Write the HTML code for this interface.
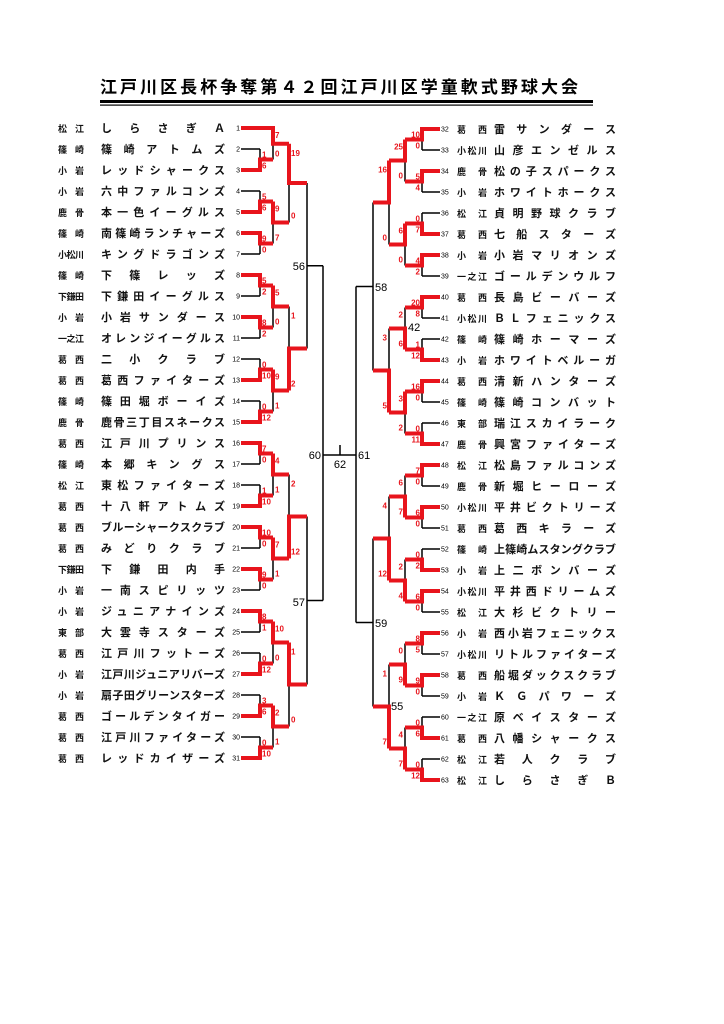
<!DOCTYPE html>
<html><head><meta charset="utf-8"><style>
html,body{margin:0;padding:0;background:#fff;}
svg{display:block;}
text{font-family:"Liberation Sans","Noto Sans CJK JP",sans-serif;}
.s{fill:#e8141c;font-size:8px;font-weight:bold;}
.n{font-size:7px;fill:#000;}
.t{font-size:11px;font-weight:bold;fill:#111;}
.r{font-size:9px;font-weight:bold;fill:#111;}
.m{font-size:11px;fill:#000;}
</style></head><body>
<svg width="724" height="1024" viewBox="0 0 724 1024" xmlns="http://www.w3.org/2000/svg">
<text x="100" y="93" font-size="17" font-weight="bold" textLength="478" lengthAdjust="spacing">江戸川区長杯争奪第４２回江戸川区学童軟式野球大会</text>
<rect x="100" y="100" width="493" height="3" fill="#000"/>
<rect x="100" y="104.5" width="493" height="1.2" fill="#000"/>

<path fill="none" stroke="#000" stroke-width="1.5" d="M241 149H260 M241 191H260 M241 254H260 M241 296H260 M241 338H260 M241 359H260 M241 401H260 M241 464H260 M241 485H260 M241 548H260 M241 590H260 M241 632H260 M241 653H260 M241 695H260 M241 737H260
M260 149V159.5 M273 143.75V159.5 M260 191V201.5 M260 243.5V254 M273 222.5V243.5 M289 183V222.5 M260 285.5V296 M260 327.5V338 M273 306.5V327.5 M260 359V369.5 M260 401V411.5 M273 390.5V411.5 M289 306.5V348.5 M307 183V348.5 M307 265.8H323 M260 453.5V464 M260 485V495.5 M273 474.5V495.5 M260 537.5V548 M260 579.5V590 M273 558.5V579.5 M289 474.5V516.5 M260 621.5V632 M260 653V663.5 M273 642.5V663.5 M260 695V705.5 M260 737V747.5 M273 726.5V747.5 M289 684.5V726.5 M307 516.5V684.5 M307 600.5H323 M323 265.8V600.5 M323 455H356 M340 445V455 M356 286.5V622.5 M373 286.5H356 M373 622.5H356
M440 150H422 M440 192H422 M440 213H422 M440 276H422 M440 318H422 M440 339H422 M440 402H422 M440 423H422 M440 486H422 M440 528H422 M440 549H422 M440 612H422 M440 654H422 M440 696H422 M440 717H422 M440 759H422
M422 139.5V150 M422 181.5V192 M405 160.5V181.5 M422 213V223.5 M422 265.5V276 M405 244.5V265.5 M389 202.5V244.5 M422 307.5V318 M422 339V349.5 M405 307.5V328.5 M422 391.5V402 M422 423V433.5 M405 412.5V433.5 M389 328.5V370.5 M373 202.5V370.5 M422 475.5V486 M422 517.5V528 M405 475.5V496.5 M422 549V559.5 M422 601.5V612 M405 559.5V580.5 M389 496.5V538.5 M422 643.5V654 M422 685.5V696 M405 643.5V664.5 M422 717V727.5 M422 759V769.5 M405 727.5V748.5 M389 664.5V706.5 M373 538.5V706.5"/>

<path fill="none" stroke="#e8141c" stroke-width="4" stroke-linejoin="miter" d="M241 128H273V143.75H289 M241 170H260V159.5H273 M241 212H260V201.5H273 M241 233H260V243.5H273 M273 201.5V222.5H289 M289 143.75V183H307
M241 275H260V285.5H273 M241 317H260V327.5H273 M273 285.5V306.5H289 M241 380H260V369.5H273 M241 422H260V411.5H273 M273 369.5V390.5H289 M289 390.5V348.5H307
M241 443H260V453.5H273 M241 506H260V495.5H273 M273 453.5V474.5H289 M241 527H260V537.5H273 M241 569H260V579.5H273 M273 537.5V558.5H289 M289 558.5V516.5H307
M241 611H260V621.5H273 M241 674H260V663.5H273 M273 621.5V642.5H289 M241 716H260V705.5H273 M241 758H260V747.5H273 M273 705.5V726.5H289 M289 642.5V684.5H307
M440 129H422V139.5H405 M440 171H422V181.5H405 M405 139.5V160.5H389 M440 234H422V223.5H405 M440 255H422V265.5H405 M405 223.5V244.5H389 M389 160.5V202.5H373
M440 297H422V307.5H405 M440 360H422V349.5H405 M405 349.5V328.5H389 M440 381H422V391.5H405 M440 444H422V433.5H405 M405 391.5V412.5H389 M389 412.5V370.5H373
M440 465H422V475.5H405 M440 507H422V517.5H405 M405 517.5V496.5H389 M440 570H422V559.5H405 M440 591H422V601.5H405 M405 601.5V580.5H389 M389 580.5V538.5H373
M440 633H422V643.5H405 M440 675H422V685.5H405 M405 685.5V664.5H389 M440 738H422V727.5H405 M440 780H422V769.5H405 M405 769.5V748.5H389 M389 748.5V706.5H373"/>

<g class="s">
<text x="262" y="157.5">1</text><text x="262" y="168.5">6</text>
<text x="275" y="138">7</text><text x="275" y="156.5">0</text>
<text x="262" y="199.5">5</text><text x="262" y="210.5">6</text>
<text x="262" y="241.5">9</text><text x="262" y="252.5">0</text>
<text x="275" y="211.5">9</text><text x="275" y="240.5">7</text>
<text x="291" y="155.75">19</text><text x="291" y="218.5">0</text>
<text x="262" y="283.5">5</text><text x="262" y="294.5">2</text>
<text x="262" y="325.5">8</text><text x="262" y="336.5">2</text>
<text x="275" y="295.5">5</text><text x="275" y="324.5">0</text>
<text x="262" y="367.5">0</text><text x="262" y="378.5">10</text>
<text x="262" y="409.5">0</text><text x="262" y="420.5">12</text>
<text x="275" y="379.5">9</text><text x="275" y="408.5">1</text>
<text x="291" y="318.5">1</text><text x="291" y="386.5">2</text>
<text x="262" y="451.5">7</text><text x="262" y="462.5">0</text>
<text x="262" y="493.5">1</text><text x="262" y="504.5">10</text>
<text x="275" y="463.5">4</text><text x="275" y="492.5">1</text>
<text x="262" y="535.5">10</text><text x="262" y="546.5">0</text>
<text x="262" y="577.5">9</text><text x="262" y="588.5">0</text>
<text x="275" y="547.5">7</text><text x="275" y="576.5">1</text>
<text x="291" y="486.5">2</text><text x="291" y="554.5">12</text>
<text x="262" y="619.5">8</text><text x="262" y="630.5">1</text>
<text x="262" y="661.5">0</text><text x="262" y="672.5">12</text>
<text x="275" y="631.5">10</text><text x="275" y="660.5">0</text>
<text x="262" y="703.5">3</text><text x="262" y="714.5">6</text>
<text x="262" y="745.5">0</text><text x="262" y="756.5">10</text>
<text x="275" y="715.5">2</text><text x="275" y="744.5">1</text>
<text x="291" y="654.5">1</text><text x="291" y="722.5">0</text>
</g>
<g class="s" text-anchor="end">
<text x="420" y="137.5">10</text><text x="420" y="148.5">0</text>
<text x="420" y="179.5">5</text><text x="420" y="190.5">4</text>
<text x="403" y="149.5">25</text><text x="403" y="178.5">0</text>
<text x="420" y="221.5">0</text><text x="420" y="232.5">7</text>
<text x="420" y="263.5">4</text><text x="420" y="274.5">2</text>
<text x="403" y="233.5">6</text><text x="403" y="262.5">0</text>
<text x="387" y="172.5">16</text><text x="387" y="240.5">0</text>
<text x="420" y="305.5">20</text><text x="420" y="316.5">8</text>
<text x="420" y="347.5">1</text><text x="420" y="358.5">12</text>
<text x="403" y="317.5">2</text><text x="403" y="346.5">6</text>
<text x="420" y="389.5">16</text><text x="420" y="400.5">0</text>
<text x="420" y="431.5">0</text><text x="420" y="442.5">11</text>
<text x="403" y="401.5">3</text><text x="403" y="430.5">2</text>
<text x="387" y="340.5">3</text><text x="387" y="408.5">5</text>
<text x="420" y="473.5">7</text><text x="420" y="484.5">0</text>
<text x="420" y="515.5">6</text><text x="420" y="526.5">0</text>
<text x="403" y="485.5">6</text><text x="403" y="514.5">7</text>
<text x="420" y="557.5">0</text><text x="420" y="568.5">2</text>
<text x="420" y="599.5">6</text><text x="420" y="610.5">0</text>
<text x="403" y="569.5">2</text><text x="403" y="598.5">4</text>
<text x="387" y="508.5">4</text><text x="387" y="576.5">12</text>
<text x="420" y="641.5">8</text><text x="420" y="652.5">5</text>
<text x="420" y="683.5">9</text><text x="420" y="694.5">0</text>
<text x="403" y="653.5">0</text><text x="403" y="682.5">9</text>
<text x="420" y="725.5">0</text><text x="420" y="736.5">6</text>
<text x="420" y="767.5">0</text><text x="420" y="778.5">12</text>
<text x="403" y="737.5">4</text><text x="403" y="766.5">7</text>
<text x="387" y="676.5">1</text><text x="387" y="744.5">7</text>
</g>
<g class="m">
<text x="305" y="270" text-anchor="end">56</text>
<text x="305" y="606" text-anchor="end">57</text>
<text x="375" y="291">58</text>
<text x="375" y="627">59</text>
<text x="321" y="459" text-anchor="end">60</text>
<text x="358" y="459">61</text>
<text x="340" y="468" text-anchor="middle">62</text>
<text x="408" y="331">42</text>
<text x="391" y="710">55</text>
</g>

<g class="n" text-anchor="end">
<text x="240" y="130.5">1</text><text x="240" y="151.5">2</text><text x="240" y="172.5">3</text><text x="240" y="193.5">4</text><text x="240" y="214.5">5</text><text x="240" y="235.5">6</text><text x="240" y="256.5">7</text><text x="240" y="277.5">8</text><text x="240" y="298.5">9</text><text x="240" y="319.5">10</text><text x="240" y="340.5">11</text><text x="240" y="361.5">12</text><text x="240" y="382.5">13</text><text x="240" y="403.5">14</text><text x="240" y="424.5">15</text><text x="240" y="445.5">16</text><text x="240" y="466.5">17</text><text x="240" y="487.5">18</text><text x="240" y="508.5">19</text><text x="240" y="529.5">20</text><text x="240" y="550.5">21</text><text x="240" y="571.5">22</text><text x="240" y="592.5">23</text><text x="240" y="613.5">24</text><text x="240" y="634.5">25</text><text x="240" y="655.5">26</text><text x="240" y="676.5">27</text><text x="240" y="697.5">28</text><text x="240" y="718.5">29</text><text x="240" y="739.5">30</text><text x="240" y="760.5">31</text>
</g>
<g class="n">
<text x="441" y="131.5">32</text><text x="441" y="152.5">33</text><text x="441" y="173.5">34</text><text x="441" y="194.5">35</text><text x="441" y="215.5">36</text><text x="441" y="236.5">37</text><text x="441" y="257.5">38</text><text x="441" y="278.5">39</text><text x="441" y="299.5">40</text><text x="441" y="320.5">41</text><text x="441" y="341.5">42</text><text x="441" y="362.5">43</text><text x="441" y="383.5">44</text><text x="441" y="404.5">45</text><text x="441" y="425.5">46</text><text x="441" y="446.5">47</text><text x="441" y="467.5">48</text><text x="441" y="488.5">49</text><text x="441" y="509.5">50</text><text x="441" y="530.5">51</text><text x="441" y="551.5">52</text><text x="441" y="572.5">53</text><text x="441" y="593.5">54</text><text x="441" y="614.5">55</text><text x="441" y="635.5">56</text><text x="441" y="656.5">57</text><text x="441" y="677.5">58</text><text x="441" y="698.5">59</text><text x="441" y="719.5">60</text><text x="441" y="740.5">61</text><text x="441" y="761.5">62</text><text x="441" y="782.5">63</text>
</g>

<g class="r">
<text x="58" y="132" textLength="26">松江</text>
<text x="58" y="153" textLength="26">篠崎</text>
<text x="58" y="174" textLength="26">小岩</text>
<text x="58" y="195" textLength="26">小岩</text>
<text x="58" y="216" textLength="26">鹿骨</text>
<text x="58" y="237" textLength="26">篠崎</text>
<text x="58" y="258" textLength="26">小松川</text>
<text x="58" y="279" textLength="26">篠崎</text>
<text x="58" y="300" textLength="26">下鎌田</text>
<text x="58" y="321" textLength="26">小岩</text>
<text x="58" y="342" textLength="26">一之江</text>
<text x="58" y="363" textLength="26">葛西</text>
<text x="58" y="384" textLength="26">葛西</text>
<text x="58" y="405" textLength="26">篠崎</text>
<text x="58" y="426" textLength="26">鹿骨</text>
<text x="58" y="447" textLength="26">葛西</text>
<text x="58" y="468" textLength="26">篠崎</text>
<text x="58" y="489" textLength="26">松江</text>
<text x="58" y="510" textLength="26">葛西</text>
<text x="58" y="531" textLength="26">葛西</text>
<text x="58" y="552" textLength="26">葛西</text>
<text x="58" y="573" textLength="26">下鎌田</text>
<text x="58" y="594" textLength="26">小岩</text>
<text x="58" y="615" textLength="26">小岩</text>
<text x="58" y="636" textLength="26">東部</text>
<text x="58" y="657" textLength="26">葛西</text>
<text x="58" y="678" textLength="26">小岩</text>
<text x="58" y="699" textLength="26">小岩</text>
<text x="58" y="720" textLength="26">葛西</text>
<text x="58" y="741" textLength="26">葛西</text>
<text x="58" y="762" textLength="26">葛西</text>
</g>
<g class="t">
<text x="101" y="132" textLength="124">しらさぎＡ</text>
<text x="101" y="153" textLength="124">篠崎アトムズ</text>
<text x="101" y="174" textLength="124">レッドシャークス</text>
<text x="101" y="195" textLength="124">六中ファルコンズ</text>
<text x="101" y="216" textLength="124">本一色イーグルス</text>
<text x="101" y="237" textLength="124">南篠崎ランチャーズ</text>
<text x="101" y="258" textLength="124">キングドラゴンズ</text>
<text x="101" y="279" textLength="124">下篠レッズ</text>
<text x="101" y="300" textLength="124">下鎌田イーグルス</text>
<text x="101" y="321" textLength="124">小岩サンダース</text>
<text x="101" y="342" textLength="124">オレンジイーグルス</text>
<text x="101" y="363" textLength="124">二小クラブ</text>
<text x="101" y="384" textLength="124">葛西ファイターズ</text>
<text x="101" y="405" textLength="124">篠田堀ボーイズ</text>
<text x="101" y="426" textLength="124">鹿骨三丁目スネークス</text>
<text x="101" y="447" textLength="124">江戸川プリンス</text>
<text x="101" y="468" textLength="124">本郷キングス</text>
<text x="101" y="489" textLength="124">東松ファイターズ</text>
<text x="101" y="510" textLength="124">十八軒アトムズ</text>
<text x="101" y="531" textLength="124">ブルーシャークスクラブ</text>
<text x="101" y="552" textLength="124">みどりクラブ</text>
<text x="101" y="573" textLength="124">下鎌田内手</text>
<text x="101" y="594" textLength="124">一南スピリッツ</text>
<text x="101" y="615" textLength="124">ジュニアナインズ</text>
<text x="101" y="636" textLength="124">大雲寺スターズ</text>
<text x="101" y="657" textLength="124">江戸川フットーズ</text>
<text x="101" y="678" textLength="124">江戸川ジュニアリバーズ</text>
<text x="101" y="699" textLength="124">扇子田グリーンスターズ</text>
<text x="101" y="720" textLength="124">ゴールデンタイガー</text>
<text x="101" y="741" textLength="124">江戸川ファイターズ</text>
<text x="101" y="762" textLength="124">レッドカイザーズ</text>
</g>
<g class="r">
<text x="457" y="133" textLength="30">葛西</text>
<text x="457" y="154" textLength="30">小松川</text>
<text x="457" y="175" textLength="30">鹿骨</text>
<text x="457" y="196" textLength="30">小岩</text>
<text x="457" y="217" textLength="30">松江</text>
<text x="457" y="238" textLength="30">葛西</text>
<text x="457" y="259" textLength="30">小岩</text>
<text x="457" y="280" textLength="30">一之江</text>
<text x="457" y="301" textLength="30">葛西</text>
<text x="457" y="322" textLength="30">小松川</text>
<text x="457" y="343" textLength="30">篠崎</text>
<text x="457" y="364" textLength="30">小岩</text>
<text x="457" y="385" textLength="30">葛西</text>
<text x="457" y="406" textLength="30">篠崎</text>
<text x="457" y="427" textLength="30">東部</text>
<text x="457" y="448" textLength="30">鹿骨</text>
<text x="457" y="469" textLength="30">松江</text>
<text x="457" y="490" textLength="30">鹿骨</text>
<text x="457" y="511" textLength="30">小松川</text>
<text x="457" y="532" textLength="30">葛西</text>
<text x="457" y="553" textLength="30">篠崎</text>
<text x="457" y="574" textLength="30">小岩</text>
<text x="457" y="595" textLength="30">小松川</text>
<text x="457" y="616" textLength="30">松江</text>
<text x="457" y="637" textLength="30">小岩</text>
<text x="457" y="658" textLength="30">小松川</text>
<text x="457" y="679" textLength="30">葛西</text>
<text x="457" y="700" textLength="30">小岩</text>
<text x="457" y="721" textLength="30">一之江</text>
<text x="457" y="742" textLength="30">葛西</text>
<text x="457" y="763" textLength="30">松江</text>
<text x="457" y="784" textLength="30">松江</text>
</g>
<g class="t">
<text x="494" y="133" textLength="122">雷サンダース</text>
<text x="494" y="154" textLength="122">山彦エンゼルス</text>
<text x="494" y="175" textLength="122">松の子スパークス</text>
<text x="494" y="196" textLength="122">ホワイトホークス</text>
<text x="494" y="217" textLength="122">貞明野球クラブ</text>
<text x="494" y="238" textLength="122">七船スターズ</text>
<text x="494" y="259" textLength="122">小岩マリオンズ</text>
<text x="494" y="280" textLength="122">ゴールデンウルフ</text>
<text x="494" y="301" textLength="122">長島ビーバーズ</text>
<text x="494" y="322" textLength="122">ＢＬフェニックス</text>
<text x="494" y="343" textLength="122">篠崎ホーマーズ</text>
<text x="494" y="364" textLength="122">ホワイトベルーガ</text>
<text x="494" y="385" textLength="122">清新ハンターズ</text>
<text x="494" y="406" textLength="122">篠崎コンバット</text>
<text x="494" y="427" textLength="122">瑞江スカイラーク</text>
<text x="494" y="448" textLength="122">興宮ファイターズ</text>
<text x="494" y="469" textLength="122">松島ファルコンズ</text>
<text x="494" y="490" textLength="122">新堀ヒーローズ</text>
<text x="494" y="511" textLength="122">平井ビクトリーズ</text>
<text x="494" y="532" textLength="122">葛西キラーズ</text>
<text x="494" y="553" textLength="122">上篠崎ムスタングクラブ</text>
<text x="494" y="574" textLength="122">上二ボンバーズ</text>
<text x="494" y="595" textLength="122">平井西ドリームズ</text>
<text x="494" y="616" textLength="122">大杉ビクトリー</text>
<text x="494" y="637" textLength="122">西小岩フェニックス</text>
<text x="494" y="658" textLength="122">リトルファイターズ</text>
<text x="494" y="679" textLength="122">船堀ダックスクラブ</text>
<text x="494" y="700" textLength="122">ＫＧパワーズ</text>
<text x="494" y="721" textLength="122">原ベイスターズ</text>
<text x="494" y="742" textLength="122">八幡シャークス</text>
<text x="494" y="763" textLength="122">若人クラブ</text>
<text x="494" y="784" textLength="122">しらさぎＢ</text>
</g>
</svg>
</body></html>
